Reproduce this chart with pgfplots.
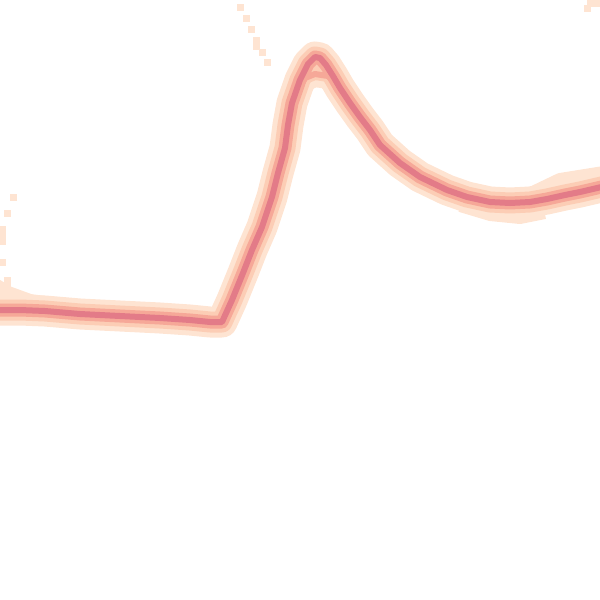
\documentclass[border=0pt]{standalone}
\usepackage{pgfplots}
\pgfplotsset{compat=1.18}
\definecolor{c1}{HTML}{FEE4D2}
\definecolor{c2}{HTML}{FCCDB5}
\definecolor{c3}{HTML}{F6A898}
\definecolor{c4}{HTML}{E37B88}
\begin{document}
\begin{tikzpicture}
\useasboundingbox (0,0) rectangle (600bp,600bp);
\begin{axis}[
  at={(0,0)}, anchor=south west,
  scale only axis, width=600bp, height=600bp,
  xmin=0, xmax=600, ymin=0, ymax=600, y dir=reverse,
  hide axis, clip=true,
]
\pgfplotstableread{
x y
-10 310
0 310
20 310
45 311
80 314
120 316
160 318
190 320
210 322
222 322
232 300
243 273
252 250
262 227
272 197
278 173
285 148
288 125
292 103
300 80
308 64
315 57
320 58
326 65
333 76
340 88
350 103
360 117
370 130
380 145
400 163
420 177
447 190
467 197
490 202
510 203
530 202
547 199
565 195
580 192
610 185
}\main
\pgfplotstableread{
x y
296 92
305 78
315 74
328 76
338 85
}\inner
\pgfplotstableread{
x y
-10 282
8 293
30 301
60 305
100 308
}\leftup
\pgfplotstableread{
x y
535 192
560 180
610 172
}\rightup
\pgfplotstableread{
x y
460 207
490 216
520 219
545 214
}\lowstrand
% lightest halo
\addplot[c1, line width=31bp, line join=round, line cap=round] table {\main};
\addplot[c1, line width=14bp, line join=round] table {\leftup};
\addplot[c1, line width=14bp, line join=round] table {\rightup};
\addplot[c1, line width=10bp, line join=round] table {\lowstrand};
\addplot[c1, line width=26bp, line join=round] table {\inner};
\addplot[c2, line width=21bp, line join=round, line cap=round] table {\main};
\addplot[c2, line width=12bp, line join=round] table {\inner};
\addplot[c3, line width=13bp, line join=round, line cap=round] table {\main};
\addplot[c3, line width=6bp, line join=round] table {\inner};
\addplot[c4, line width=6bp, line join=round, line cap=round] table {\main};
% scattered faint cells
\addplot[only marks, mark=square*, mark size=2.75bp, mark options={draw=c1, fill=c1}] coordinates {
(240,7) (246,18) (251,29) (256,40) (256,46) (262,52) (267,62)
(13,197) (7,213) (2,229) (2,235) (2,241) (2,262) (7,280) (7,286)
(590,3) (596,3) (587,8)
};
\end{axis}
\end{tikzpicture}
\end{document}
